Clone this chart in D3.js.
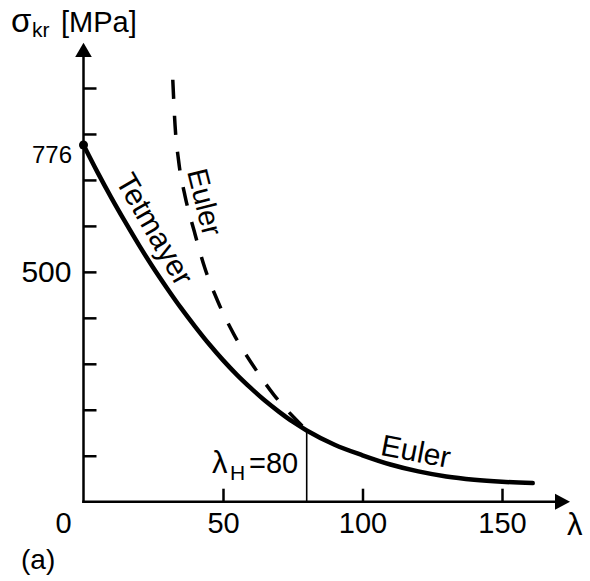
<!DOCTYPE html>
<html>
<head>
<meta charset="utf-8">
<script src="https://cdn.jsdelivr.net/npm/d3@7"></script>
<style>
  html, body { margin: 0; padding: 0; background: #fff; }
  svg { display: block; font-family: "Liberation Sans", Arial, Helvetica, sans-serif; }
</style>
</head>
<body>
<svg id="chart" width="590" height="581"></svg>
<script>
// Tetmajer (inelastic) range, slenderness 0 .. 80
const tetmajerLambda = [0, 5, 10, 15, 20, 25, 30, 35, 40, 45, 50, 55, 60, 65, 70, 75, 80];
const tetmajerSigma  = [776, 717, 661, 608, 557, 509, 464, 421, 381, 343, 308, 276, 247, 220, 196, 174, 155];

// Euler (elastic) range, slenderness 80 .. 161
const eulerLambda = [80, 90, 100, 110, 120, 130, 140, 150, 161];
const eulerSigma  = [155, 124, 101, 81, 66, 55, 48, 43.5, 40.5];

// Euler hyperbola continued into the inelastic range (dashed)
const eulerDashLambda = [32.0, 32.8, 34.1, 36.4, 39.8, 43.4, 48.2, 53.9, 60.6, 68.3, 75.6, 80];
const eulerDashSigma  = [918, 820, 741, 665, 586, 510, 435, 364, 298, 232, 182, 155];

const xTicks = [50, 100, 150];
const yTicks = [100, 200, 300, 400, 500, 600, 700, 800, 900];
const yLabelled = [500];
const sigmaZero = 776;   // value marked with a dot on the stress axis
const lambdaH = 80;      // limit slenderness

const svg = d3.select("#chart");

const x = d3.scaleLinear().domain([0, 150]).range([83.5, 502]);
const y = d3.scaleLinear().domain([0, 900]).range([501.7, 88]);

const ink = "#000";

// ---- axes ----
const yAxis = d3.axisLeft(y)
  .tickValues(yTicks)
  .tickSizeInner(-13)
  .tickSizeOuter(0)
  .tickPadding(12)
  .tickFormat(d => yLabelled.includes(d) ? String(d) : "");
const gy = svg.append("g").attr("transform", `translate(${x(0)},0)`).call(yAxis);
gy.select(".domain").remove();
gy.selectAll("line").attr("stroke", ink).attr("stroke-width", 2.5);
gy.selectAll("text").attr("font-size", 30).attr("font-family", null).attr("fill", ink);

const xAxis = d3.axisBottom(x)
  .tickValues(xTicks)
  .tickSizeInner(-13)
  .tickSizeOuter(0)
  .tickPadding(11)
  .tickFormat(d => String(d));
const gx = svg.append("g").attr("transform", `translate(0,${y(0)})`).call(xAxis);
gx.select(".domain").remove();
gx.selectAll("line").attr("stroke", ink).attr("stroke-width", 2.5);
gx.selectAll("text").attr("font-size", 29).attr("font-family", null).attr("fill", ink);

// axis lines with arrowheads
svg.append("line")
  .attr("x1", x(0)).attr("y1", y(0) + 1.2)
  .attr("x2", x(0)).attr("y2", 56)
  .attr("stroke", ink).attr("stroke-width", 2.5);
svg.append("path")
  .attr("d", `M${x(0)},42.7 L${x(0) - 8.3},57 L${x(0) + 8.3},57 Z`)
  .attr("fill", ink);

svg.append("line")
  .attr("x1", x(0) - 1.2).attr("y1", y(0))
  .attr("x2", 556).attr("y2", y(0))
  .attr("stroke", ink).attr("stroke-width", 2.5);
svg.append("path")
  .attr("d", `M570,${y(0)} L555,${y(0) - 8} L555,${y(0) + 8} Z`)
  .attr("fill", ink);

// origin label sits left of the axis
svg.append("text")
  .attr("x", 63.5).attr("y", 533)
  .attr("text-anchor", "middle")
  .attr("font-size", 29)
  .text("0");

// ---- curves ----
const line = d3.line()
  .x(d => x(d[0]))
  .y(d => y(d[1]))
  .curve(d3.curveMonotoneX);

const solidPts = tetmajerLambda.map((l, i) => [l, tetmajerSigma[i]])
  .concat(eulerLambda.slice(1).map((l, i) => [l, eulerSigma[i + 1]]));
const dashPts = eulerDashLambda.map((l, i) => [l, eulerDashSigma[i]]);

svg.append("path")
  .attr("d", line(dashPts))
  .attr("fill", "none")
  .attr("stroke", ink)
  .attr("stroke-width", 3.5)
  .attr("stroke-dasharray", "19,17");

svg.append("path")
  .attr("d", line(solidPts))
  .attr("fill", "none")
  .attr("stroke", ink)
  .attr("stroke-width", 4.5)
  .attr("stroke-linecap", "round")
  .attr("stroke-linejoin", "round");

// limit slenderness marker
const sigmaH = tetmajerSigma[tetmajerLambda.indexOf(lambdaH)];
svg.append("line")
  .attr("x1", x(lambdaH)).attr("y1", y(sigmaH))
  .attr("x2", x(lambdaH)).attr("y2", y(0))
  .attr("stroke", ink).attr("stroke-width", 1.6);

svg.append("circle")
  .attr("cx", x(0)).attr("cy", y(sigmaZero))
  .attr("r", 4.5)
  .attr("fill", ink);

svg.append("text")
  .attr("x", 72).attr("y", y(sigmaZero) + 18)
  .attr("text-anchor", "end")
  .attr("font-size", 24)
  .text(String(sigmaZero));

// ---- labels ----
const title = svg.append("text").attr("y", 31.7).attr("font-size", 29);
title.append("tspan").attr("x", 11).attr("font-size", 33).text("σ");
title.append("tspan").attr("x", 32).attr("dy", 5).attr("font-size", 21).text("kr");
title.append("tspan").attr("x", 61).attr("dy", -5).text("[MPa]");

svg.append("text")
  .attr("x", 567).attr("y", 535)
  .attr("font-size", 31)
  .text("λ");

const lh = svg.append("text").attr("y", 473).attr("font-size", 29);
lh.append("tspan").attr("x", 212).attr("font-size", 31).text("λ");
lh.append("tspan").attr("x", 230).attr("dy", 7).attr("font-size", 21).text("H");
lh.append("tspan").attr("x", 249).attr("dy", -7).text("=" + lambdaH);

svg.append("text")
  .attr("transform", "translate(155,229) rotate(60)")
  .attr("text-anchor", "middle")
  .attr("dy", "0.35em")
  .attr("font-size", 30)
  .text("Tetmayer");

svg.append("text")
  .attr("transform", "translate(205,202) rotate(76)")
  .attr("text-anchor", "middle")
  .attr("dy", "0.35em")
  .attr("font-size", 29)
  .text("Euler");

svg.append("text")
  .attr("transform", "translate(416,451) rotate(11)")
  .attr("text-anchor", "middle")
  .attr("dy", "0.35em")
  .attr("font-size", 30)
  .text("Euler");

svg.append("text")
  .attr("x", 21).attr("y", 569)
  .attr("font-size", 28)
  .text("(a)");
</script>
</body>
</html>
